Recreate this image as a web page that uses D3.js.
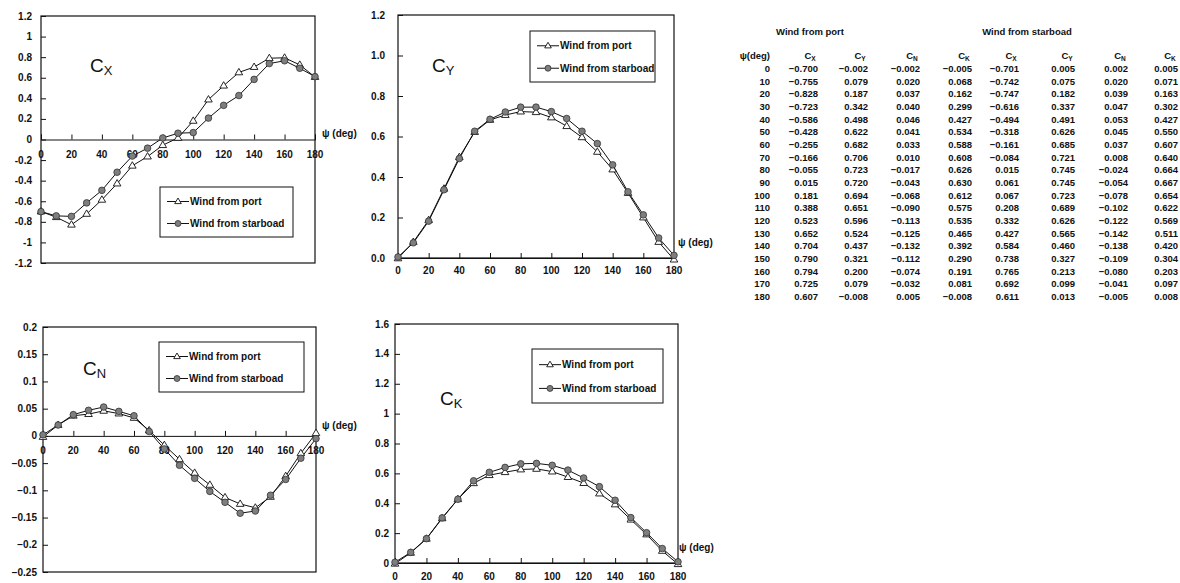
<!DOCTYPE html>
<html><head><meta charset="utf-8">
<script src="https://cdn.jsdelivr.net/npm/d3@7"></script>
<style>
html,body{margin:0;padding:0;background:#fff;}
svg{display:block;font-family:"Liberation Sans",Arial,sans-serif;}
</style></head>
<body><svg id="c" width="1180" height="583"></svg>
<script>
const psi = [0,10,20,30,40,50,60,70,80,90,100,110,120,130,140,150,160,170,180];

const portCX = [-0.700,-0.755,-0.828,-0.723,-0.586,-0.428,-0.255,-0.166,-0.055,0.015,0.181,0.388,0.523,0.652,0.704,0.790,0.794,0.725,0.607];
const portCY = [-0.002,0.079,0.187,0.342,0.498,0.622,0.682,0.706,0.723,0.720,0.694,0.651,0.596,0.524,0.437,0.321,0.200,0.079,-0.008];
const portCN = [-0.002,0.020,0.037,0.040,0.046,0.041,0.033,0.010,-0.017,-0.043,-0.068,-0.090,-0.113,-0.125,-0.132,-0.112,-0.074,-0.032,0.005];
const portCK = [-0.005,0.068,0.162,0.299,0.427,0.534,0.588,0.608,0.626,0.630,0.612,0.575,0.535,0.465,0.392,0.290,0.191,0.081,-0.008];

const stbdCX = [-0.701,-0.742,-0.747,-0.616,-0.494,-0.318,-0.161,-0.084,0.015,0.061,0.067,0.208,0.332,0.427,0.584,0.738,0.765,0.692,0.611];
const stbdCY = [0.005,0.075,0.182,0.337,0.491,0.626,0.685,0.721,0.745,0.745,0.723,0.689,0.626,0.565,0.460,0.327,0.213,0.099,0.013];
const stbdCN = [0.002,0.020,0.039,0.047,0.053,0.045,0.037,0.008,-0.024,-0.054,-0.078,-0.102,-0.122,-0.142,-0.138,-0.109,-0.080,-0.041,-0.005];
const stbdCK = [0.005,0.071,0.163,0.302,0.427,0.550,0.607,0.640,0.664,0.667,0.654,0.622,0.569,0.511,0.420,0.304,0.203,0.097,0.008];

const xTicks = [0,20,40,60,80,100,120,140,160,180];
const cxTicks = [-1.2,-1,-0.8,-0.6,-0.4,-0.2,0,0.2,0.4,0.6,0.8,1,1.2];
const cyTicks = [0,0.2,0.4,0.6,0.8,1.0,1.2];
const cnTicks = [-0.25,-0.2,-0.15,-0.1,-0.05,0,0.05,0.1,0.15,0.2];
const ckTicks = [0,0.2,0.4,0.6,0.8,1,1.2,1.4,1.6];
const legendLabels = ["Wind from port","Wind from starboad"];
const tableGroups = ["Wind from port","Wind from starboad"];
const coefNames = [["C","X"],["C","Y"],["C","N"],["C","K"]];

const svg = d3.select("#c");
const INK = "#111";

function fmtCX(v){ return v===0?"0":(v<0?"-":"")+String(Math.abs(+v.toFixed(2))); }
function fmtCY(v){ return v.toFixed(1); }
function fmtCN(v){ return v===0?"0":(v<0?"\u2212":"")+String(Math.abs(+v.toFixed(2))); }
function fmtCK(v){ return String(+v.toFixed(1)); }

function triPath(cx,cy,s){ return `M${cx},${cy-s}L${cx+s*0.95},${cy+s*0.6}L${cx-s*0.95},${cy+s*0.6}Z`; }

function drawChart(o){
  const g = svg.append("g");
  const x = d3.scaleLinear().domain([0,180]).range([o.left,o.right]);
  const y = d3.scaleLinear().domain(o.domain).range([o.bottom,o.top]);
  g.append("rect").attr("x",o.left).attr("y",o.top).attr("width",o.right-o.left).attr("height",o.bottom-o.top)
    .attr("fill","none").attr("stroke",INK).attr("stroke-width",1.2);
  const ya = d3.axisRight(y).tickValues(o.yTicks).tickSize(5).tickFormat("");
  g.append("g").attr("transform",`translate(${o.left},0)`).call(ya)
    .call(s=>{s.select(".domain").remove(); s.selectAll("line").attr("stroke",INK);});
  g.append("g").selectAll("text").data(o.yTicks).join("text")
    .attr("x",o.left-o.yLabOff).attr("y",d=>y(d)+3.5).attr("text-anchor","end")
    .attr("font-size",10).attr("font-weight","bold").attr("fill",INK).text(o.fmt);
  const y0 = y(o.xAxisAt);
  const xa = d3.axisTop(x).tickValues(xTicks).tickSize(5).tickFormat("");
  g.append("g").attr("transform",`translate(0,${y0})`).call(xa)
    .call(s=>{s.select(".domain").attr("stroke",INK).attr("stroke-width",1); s.selectAll("line").attr("stroke",INK);});
  g.append("g").selectAll("text").data(xTicks).join("text")
    .attr("x",d=>x(d)).attr("y",y0+o.xLabOff).attr("text-anchor","middle")
    .attr("font-size",10).attr("font-weight","bold").attr("fill",INK).text(d=>d);
  g.append("text").attr("x",o.psiX).attr("y",o.psiY).attr("font-size",10).attr("font-weight","bold").attr("fill",INK)
    .text("\u03c8 (deg)");
  const line = d3.line().x((d,i)=>x(psi[i])).y(d=>y(d));
  g.append("path").datum(o.port).attr("d",line).attr("fill","none").attr("stroke",INK).attr("stroke-width",1);
  g.append("path").datum(o.stbd).attr("d",line).attr("fill","none").attr("stroke",INK).attr("stroke-width",1);
  g.append("g").selectAll("path").data(o.port).join("path")
    .attr("d",(d,i)=>triPath(x(psi[i]),y(d),4)).attr("fill","#fff").attr("stroke",INK).attr("stroke-width",0.9);
  g.append("g").selectAll("circle").data(o.stbd).join("circle")
    .attr("cx",(d,i)=>x(psi[i])).attr("cy",d=>y(d)).attr("r",3.3).attr("fill","#7e7e7e").attr("stroke","#333").attr("stroke-width",0.8);
  const t = g.append("text").attr("x",o.labX).attr("y",o.labY).attr("font-size",19).attr("fill",INK);
  t.append("tspan").text(o.name[0]);
  t.append("tspan").attr("font-size",13).attr("dy",3).text(o.name[1]);
  const L = o.legend;
  g.append("rect").attr("x",L.x).attr("y",L.y).attr("width",L.w).attr("height",L.h)
    .attr("fill","#fff").attr("stroke",INK).attr("stroke-width",1);
  legendLabels.forEach((lab,i)=>{
    const ly = L.y + L.h*(i===0?0.29:0.73);
    const lx0 = L.x+7, lx1 = L.x+29, mx = (lx0+lx1)/2;
    g.append("line").attr("x1",lx0).attr("x2",lx1).attr("y1",ly).attr("y2",ly).attr("stroke",INK).attr("stroke-width",1);
    if(i===0) g.append("path").attr("d",triPath(mx,ly,3.5)).attr("fill","#fff").attr("stroke",INK).attr("stroke-width",0.9);
    else g.append("circle").attr("cx",mx).attr("cy",ly).attr("r",3).attr("fill","#7e7e7e").attr("stroke","#333").attr("stroke-width",0.8);
    g.append("text").attr("x",lx1+1).attr("y",ly+3.5).attr("font-size",10).attr("font-weight","bold").attr("fill",INK).text(lab);
  });
}

drawChart({name:coefNames[0],port:portCX,stbd:stbdCX,domain:[-1.2,1.2],yTicks:cxTicks,fmt:fmtCX,xAxisAt:0,
  left:41,right:315,top:16,bottom:263,yLabOff:9,xLabOff:18,psiX:322,psiY:137,labX:90,labY:72,
  legend:{x:160,y:187,w:133,h:50}});
drawChart({name:coefNames[1],port:portCY,stbd:stbdCY,domain:[0,1.2],yTicks:cyTicks,fmt:fmtCY,xAxisAt:0,
  left:398,right:674,top:15,bottom:258,yLabOff:13,xLabOff:16,psiX:678,psiY:246,labX:432,labY:72,
  legend:{x:530,y:31,w:125,h:51}});
drawChart({name:coefNames[2],port:portCN,stbd:stbdCN,domain:[-0.25,0.2],yTicks:cnTicks,fmt:fmtCN,xAxisAt:0,
  left:43,right:316,top:327,bottom:572,yLabOff:6,xLabOff:18,psiX:322,psiY:429,labX:83,labY:375,
  legend:{x:159,y:342,w:145,h:50}});
drawChart({name:coefNames[3],port:portCK,stbd:stbdCK,domain:[0,1.6],yTicks:ckTicks,fmt:fmtCK,xAxisAt:0,
  left:395,right:678,top:324,bottom:563,yLabOff:6,xLabOff:17,psiX:679,psiY:551,labX:440,labY:405,
  legend:{x:532,y:349,w:131,h:54}});

const tg = svg.append("g").attr("font-size",9.5).attr("font-weight","bold").attr("fill",INK);
tg.append("text").attr("x",810).attr("y",35).attr("text-anchor","middle").text(tableGroups[0]);
tg.append("text").attr("x",1027).attr("y",35).attr("text-anchor","middle").text(tableGroups[1]);
const colRight = [770,818,868,920,972,1019,1075,1128,1178];
const hdrY = 59;
tg.append("text").attr("x",colRight[0]).attr("y",hdrY).attr("text-anchor","end").text("\u03c8(deg)");
const hdrNames = coefNames.concat(coefNames);
hdrNames.forEach((n,i)=>{
  const t = tg.append("text").attr("x",colRight[i+1]-8).attr("y",hdrY).attr("text-anchor","middle");
  t.append("tspan").text(n[0]);
  t.append("tspan").attr("font-size",6.5).attr("dy",2).text(n[1]);
});
const cols = [portCX,portCY,portCN,portCK,stbdCX,stbdCY,stbdCN,stbdCK];
const fmt3 = v=>(v<0?"\u2212":"")+Math.abs(v).toFixed(3);
psi.forEach((p,r)=>{
  const yy = 72 + r*12.67;
  tg.append("text").attr("x",colRight[0]).attr("y",yy).attr("text-anchor","end").text(p);
  cols.forEach((c,j)=>{
    tg.append("text").attr("x",colRight[j+1]).attr("y",yy).attr("text-anchor","end").text(fmt3(c[r]));
  });
});
</script></body></html>
